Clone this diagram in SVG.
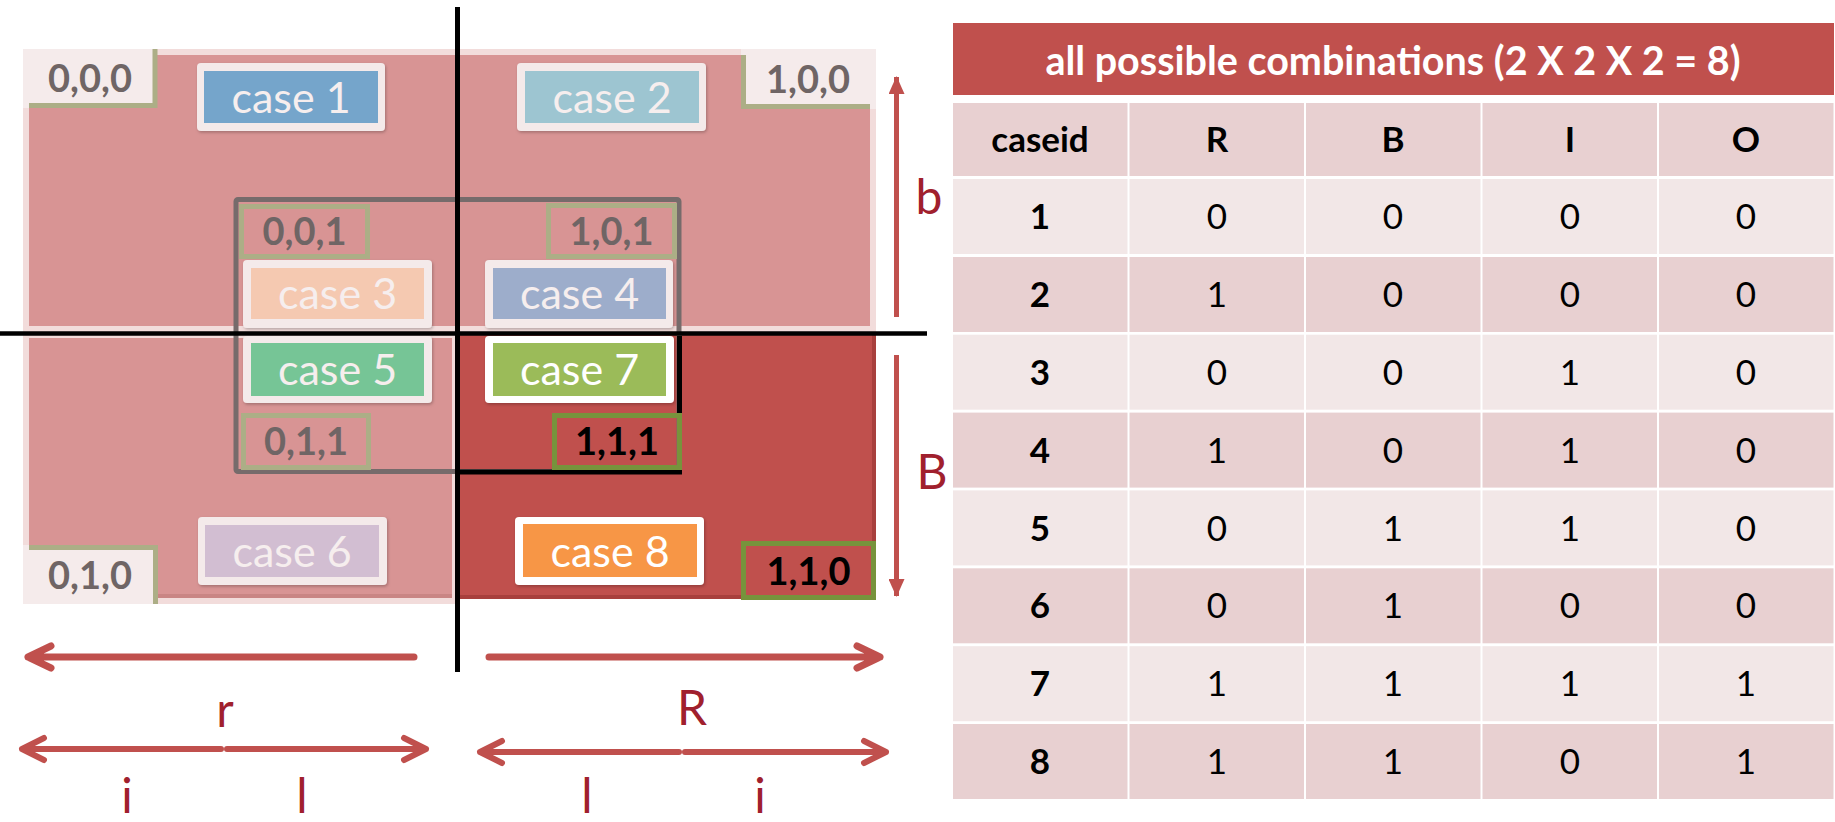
<svg xmlns="http://www.w3.org/2000/svg" width="1835" height="822" viewBox="0 0 1835 822">
  <defs>
    <filter id="soft" x="-10%" y="-10%" width="125%" height="130%">
      <feDropShadow dx="1" dy="1.5" stdDeviation="1.5" flood-color="#000" flood-opacity="0.25"/>
    </filter>
    <marker id="tri" viewBox="0 0 18 16" refX="17" refY="8" markerWidth="18" markerHeight="16" markerUnits="userSpaceOnUse" orient="auto">
      <path d="M0,0 L18,8 L0,16 Z" fill="#C0504D"/>
    </marker>
  </defs>
  <style>
    text { font-family: Lato, "Liberation Sans", sans-serif; }
    .case-outer { fill: #F4EAEA; rx: 4; filter: url(#soft); }
    .case-outer.w { fill: #FFFFFF; }
    .case-txt { font-size: 43px; fill: #F6EEEE; text-anchor: middle; }
    .case-txt.w { fill: #FFFFFF; }
    .code { fill: #F5EBEB; }
    .code-txt { font-size: 38px; font-weight: bold; fill: #6F6565; text-anchor: middle; }
    .code-txt.k { fill: #000000; }
    .olive { fill: none; stroke: #ACAE86; stroke-width: 5; }
    .green { fill: none; stroke: #77933C; stroke-width: 5; }
    .axis-lbl { font-size: 48px; fill: #A0202D; text-anchor: middle; }
    .harrow { fill: none; stroke: #C0504D; stroke-width: 7; stroke-linecap: round; stroke-linejoin: round; }
    .harrow.t { stroke-width: 6; }
    .varrow { fill: none; stroke: #C0504D; stroke-width: 5; }
    .cell-d { fill: #E8D0D1; }
    .cell-l { fill: #F2E7E7; }
    .tt { font-size: 35px; fill: #000; text-anchor: middle; }
    .tb { font-weight: bold; }
  </style>

  <!-- quadrants: r/R (left/right) by b/B (top/bottom) -->
  <g id="region-top">
    <rect x="23" y="49" width="853" height="283" fill="#F2DCDB"/>
    <rect x="29" y="55" width="841" height="271" fill="#D89494"/>
  </g>
  <g id="region-bottom-left">
    <rect x="23" y="333" width="432" height="271" fill="#F2DCDB"/>
    <rect x="29" y="338" width="423" height="260" fill="#D89494"/>
    <rect x="29" y="594" width="423" height="4" fill="#C98584"/>
  </g>
  <g id="region-bottom-right">
    <rect x="459" y="335" width="417" height="264" fill="#C0504D"/>
    <rect x="872" y="335" width="4" height="264" fill="#A8403D"/>
    <rect x="459" y="595" width="417" height="4" fill="#A8403D"/>
  </g>

  <!-- inner "I" frame -->
  <g id="inner-frame">
    <rect x="236" y="199.5" width="443" height="272" rx="2" fill="none" stroke="#766B6B" stroke-width="5"/>
    <path d="M679.5,336 V472 H459" fill="none" stroke="#000" stroke-width="5"/>
  </g>

  <!-- dividers -->
  <g id="dividers">
    <line x1="457.5" y1="7" x2="457.5" y2="672" stroke="#000" stroke-width="5"/>
    <line x1="0" y1="333.5" x2="927" y2="333.5" stroke="#000" stroke-width="4.5"/>
  </g>

  <!-- case boxes -->
  <g id="case1">
    <rect class="case-outer" x="197" y="63" width="188" height="68"/>
    <rect x="204" y="71" width="174" height="52" fill="#75A5CB"/>
    <text class="case-txt" x="291" y="113">case 1</text>
  </g>
  <g id="case2">
    <rect class="case-outer" x="517" y="63" width="189" height="68"/>
    <rect x="525" y="71" width="174" height="52" fill="#9DC5D1"/>
    <text class="case-txt" x="612" y="113">case 2</text>
  </g>
  <g id="case3">
    <rect class="case-outer" x="243" y="260" width="189" height="68"/>
    <rect x="251" y="268" width="173" height="51" fill="#F5C9B1"/>
    <text class="case-txt" x="337.5" y="309">case 3</text>
  </g>
  <g id="case4">
    <rect class="case-outer" x="485" y="260" width="188" height="68"/>
    <rect x="493" y="268" width="173" height="51" fill="#9DADCB"/>
    <text class="case-txt" x="579.5" y="309">case 4</text>
  </g>
  <g id="case5">
    <rect class="case-outer" x="243" y="336" width="189" height="67"/>
    <rect x="251" y="343" width="173" height="53" fill="#76C596"/>
    <text class="case-txt" x="337.5" y="385">case 5</text>
  </g>
  <g id="case6">
    <rect class="case-outer" x="198" y="517" width="189" height="68"/>
    <rect x="205" y="525" width="174" height="52" fill="#D2BED2"/>
    <text class="case-txt" x="292" y="567">case 6</text>
  </g>
  <g id="case7">
    <rect class="case-outer w" x="485" y="336" width="189" height="67"/>
    <rect x="493" y="343" width="173" height="53" fill="#9BBB59"/>
    <text class="case-txt w" x="579.5" y="385">case 7</text>
  </g>
  <g id="case8">
    <rect class="case-outer w" x="515" y="517" width="189" height="68"/>
    <rect x="523" y="524" width="174" height="53" fill="#F79646"/>
    <text class="case-txt w" x="610" y="567">case 8</text>
  </g>

  <!-- state codes (R,B,I) -->
  <g id="code-000">
    <rect class="code" x="23" y="49" width="134" height="59"/>
    <path class="olive" d="M155,49 V105.5 H29"/>
    <text class="code-txt" x="90" y="92">0,0,0</text>
  </g>
  <g id="code-100">
    <rect class="code" x="741" y="49" width="135" height="60"/>
    <path class="olive" d="M743.5,55 V106.5 H870"/>
    <text class="code-txt" x="808" y="93">1,0,0</text>
  </g>
  <g id="code-001">
    <rect class="code olive" x="241.5" y="206.5" width="126" height="50"/>
    <text class="code-txt" x="304.5" y="245">0,0,1</text>
  </g>
  <g id="code-101">
    <rect class="code olive" x="548.5" y="205.5" width="126" height="51"/>
    <text class="code-txt" x="611.5" y="245">1,0,1</text>
  </g>
  <g id="code-011">
    <rect class="code olive" x="243.5" y="415.5" width="125" height="52"/>
    <text class="code-txt" x="306" y="455">0,1,1</text>
  </g>
  <g id="code-010">
    <rect class="code" x="23" y="545" width="135" height="59"/>
    <path class="olive" d="M29,547.5 H155.5 V604"/>
    <text class="code-txt" x="90" y="589">0,1,0</text>
  </g>
  <g id="code-111">
    <rect x="554.5" y="415.5" width="125" height="52" fill="#FFFFFF" class="green"/>
    <text class="code-txt k" x="617" y="455">1,1,1</text>
  </g>
  <g id="code-110">
    <rect x="743.5" y="543.5" width="130" height="54" fill="#FFFFFF" class="green"/>
    <text class="code-txt k" x="808.5" y="585">1,1,0</text>
  </g>

  <!-- dimension arrows -->
  <g id="connectors">
    <line class="varrow" x1="896.5" y1="317" x2="896.5" y2="77" marker-end="url(#tri)"/>
    <line class="varrow" x1="896.5" y1="355" x2="896.5" y2="596" marker-end="url(#tri)"/>

    <path class="harrow" d="M414,657 H28 M51,646 L28,657 L51,668"/>
    <path class="harrow" d="M489,657 H880 M857,646 L880,657 L857,668"/>

    <path class="harrow t" d="M221,749 H22 M227,749 H426 M44,738 L22,749 L44,760 M404,738 L426,749 L404,760" stroke-linecap="butt"/>
    <path class="harrow t" d="M679,752 H480 M685,752 H886 M502,741 L480,752 L502,763 M864,741 L886,752 L864,763" stroke-linecap="butt"/>
  </g>

  <g id="axis-labels">
    <text class="axis-lbl" x="929" y="214">b</text>
    <text class="axis-lbl" x="932" y="489">B</text>
    <text class="axis-lbl" x="225" y="727">r</text>
    <text class="axis-lbl" x="692" y="725">R</text>
    <text class="axis-lbl" x="127" y="813">i</text>
    <text class="axis-lbl" x="302" y="813">l</text>
    <text class="axis-lbl" x="587" y="813">l</text>
    <text class="axis-lbl" x="760" y="813">i</text>
  </g>

  <!-- combination table -->
  <g id="table">
    <rect x="953" y="23" width="881" height="72" fill="#C0504D"/>
    <text x="1393" y="75" font-size="39.5" font-weight="bold" fill="#FFFFFF" text-anchor="middle">all possible combinations (2 X 2 X 2 = 8)</text>

    <g id="table-head">
      <rect class="cell-d" x="953" y="103" width="174.5" height="73"/>
      <rect class="cell-d" x="1129.5" y="103" width="174.5" height="73"/>
      <rect class="cell-d" x="1306" y="103" width="174.5" height="73"/>
      <rect class="cell-d" x="1482.5" y="103" width="174.5" height="73"/>
      <rect class="cell-d" x="1659" y="103" width="174.5" height="73"/>
      <text class="tt tb" x="1040" y="152">caseid</text>
      <text class="tt tb" x="1217" y="152">R</text>
      <text class="tt tb" x="1393" y="152">B</text>
      <text class="tt tb" x="1570" y="152">I</text>
      <text class="tt tb" x="1746" y="152">O</text>
    </g>

    <g id="row1">
      <rect class="cell-l" x="953" y="179" width="174.5" height="75"/>
      <rect class="cell-l" x="1129.5" y="179" width="174.5" height="75"/>
      <rect class="cell-l" x="1306" y="179" width="174.5" height="75"/>
      <rect class="cell-l" x="1482.5" y="179" width="174.5" height="75"/>
      <rect class="cell-l" x="1659" y="179" width="174.5" height="75"/>
      <text class="tt tb" x="1040" y="229">1</text>
      <text class="tt" x="1217" y="229">0</text>
      <text class="tt" x="1393" y="229">0</text>
      <text class="tt" x="1570" y="229">0</text>
      <text class="tt" x="1746" y="229">0</text>
    </g>
    <g id="row2">
      <rect class="cell-d" x="953" y="257" width="174.5" height="75"/>
      <rect class="cell-d" x="1129.5" y="257" width="174.5" height="75"/>
      <rect class="cell-d" x="1306" y="257" width="174.5" height="75"/>
      <rect class="cell-d" x="1482.5" y="257" width="174.5" height="75"/>
      <rect class="cell-d" x="1659" y="257" width="174.5" height="75"/>
      <text class="tt tb" x="1040" y="307">2</text>
      <text class="tt" x="1217" y="307">1</text>
      <text class="tt" x="1393" y="307">0</text>
      <text class="tt" x="1570" y="307">0</text>
      <text class="tt" x="1746" y="307">0</text>
    </g>
    <g id="row3">
      <rect class="cell-l" x="953" y="334.7" width="174.5" height="75"/>
      <rect class="cell-l" x="1129.5" y="334.7" width="174.5" height="75"/>
      <rect class="cell-l" x="1306" y="334.7" width="174.5" height="75"/>
      <rect class="cell-l" x="1482.5" y="334.7" width="174.5" height="75"/>
      <rect class="cell-l" x="1659" y="334.7" width="174.5" height="75"/>
      <text class="tt tb" x="1040" y="384.8">3</text>
      <text class="tt" x="1217" y="384.8">0</text>
      <text class="tt" x="1393" y="384.8">0</text>
      <text class="tt" x="1570" y="384.8">1</text>
      <text class="tt" x="1746" y="384.8">0</text>
    </g>
    <g id="row4">
      <rect class="cell-d" x="953" y="412.6" width="174.5" height="75"/>
      <rect class="cell-d" x="1129.5" y="412.6" width="174.5" height="75"/>
      <rect class="cell-d" x="1306" y="412.6" width="174.5" height="75"/>
      <rect class="cell-d" x="1482.5" y="412.6" width="174.5" height="75"/>
      <rect class="cell-d" x="1659" y="412.6" width="174.5" height="75"/>
      <text class="tt tb" x="1040" y="462.6">4</text>
      <text class="tt" x="1217" y="462.6">1</text>
      <text class="tt" x="1393" y="462.6">0</text>
      <text class="tt" x="1570" y="462.6">1</text>
      <text class="tt" x="1746" y="462.6">0</text>
    </g>
    <g id="row5">
      <rect class="cell-l" x="953" y="490.4" width="174.5" height="75"/>
      <rect class="cell-l" x="1129.5" y="490.4" width="174.5" height="75"/>
      <rect class="cell-l" x="1306" y="490.4" width="174.5" height="75"/>
      <rect class="cell-l" x="1482.5" y="490.4" width="174.5" height="75"/>
      <rect class="cell-l" x="1659" y="490.4" width="174.5" height="75"/>
      <text class="tt tb" x="1040" y="540.5">5</text>
      <text class="tt" x="1217" y="540.5">0</text>
      <text class="tt" x="1393" y="540.5">1</text>
      <text class="tt" x="1570" y="540.5">1</text>
      <text class="tt" x="1746" y="540.5">0</text>
    </g>
    <g id="row6">
      <rect class="cell-d" x="953" y="568.3" width="174.5" height="75"/>
      <rect class="cell-d" x="1129.5" y="568.3" width="174.5" height="75"/>
      <rect class="cell-d" x="1306" y="568.3" width="174.5" height="75"/>
      <rect class="cell-d" x="1482.5" y="568.3" width="174.5" height="75"/>
      <rect class="cell-d" x="1659" y="568.3" width="174.5" height="75"/>
      <text class="tt tb" x="1040" y="618.3">6</text>
      <text class="tt" x="1217" y="618.3">0</text>
      <text class="tt" x="1393" y="618.3">1</text>
      <text class="tt" x="1570" y="618.3">0</text>
      <text class="tt" x="1746" y="618.3">0</text>
    </g>
    <g id="row7">
      <rect class="cell-l" x="953" y="646.2" width="174.5" height="75"/>
      <rect class="cell-l" x="1129.5" y="646.2" width="174.5" height="75"/>
      <rect class="cell-l" x="1306" y="646.2" width="174.5" height="75"/>
      <rect class="cell-l" x="1482.5" y="646.2" width="174.5" height="75"/>
      <rect class="cell-l" x="1659" y="646.2" width="174.5" height="75"/>
      <text class="tt tb" x="1040" y="696.2">7</text>
      <text class="tt" x="1217" y="696.2">1</text>
      <text class="tt" x="1393" y="696.2">1</text>
      <text class="tt" x="1570" y="696.2">1</text>
      <text class="tt" x="1746" y="696.2">1</text>
    </g>
    <g id="row8">
      <rect class="cell-d" x="953" y="724" width="174.5" height="75"/>
      <rect class="cell-d" x="1129.5" y="724" width="174.5" height="75"/>
      <rect class="cell-d" x="1306" y="724" width="174.5" height="75"/>
      <rect class="cell-d" x="1482.5" y="724" width="174.5" height="75"/>
      <rect class="cell-d" x="1659" y="724" width="174.5" height="75"/>
      <text class="tt tb" x="1040" y="774">8</text>
      <text class="tt" x="1217" y="774">1</text>
      <text class="tt" x="1393" y="774">1</text>
      <text class="tt" x="1570" y="774">0</text>
      <text class="tt" x="1746" y="774">1</text>
    </g>
  </g>
</svg>
